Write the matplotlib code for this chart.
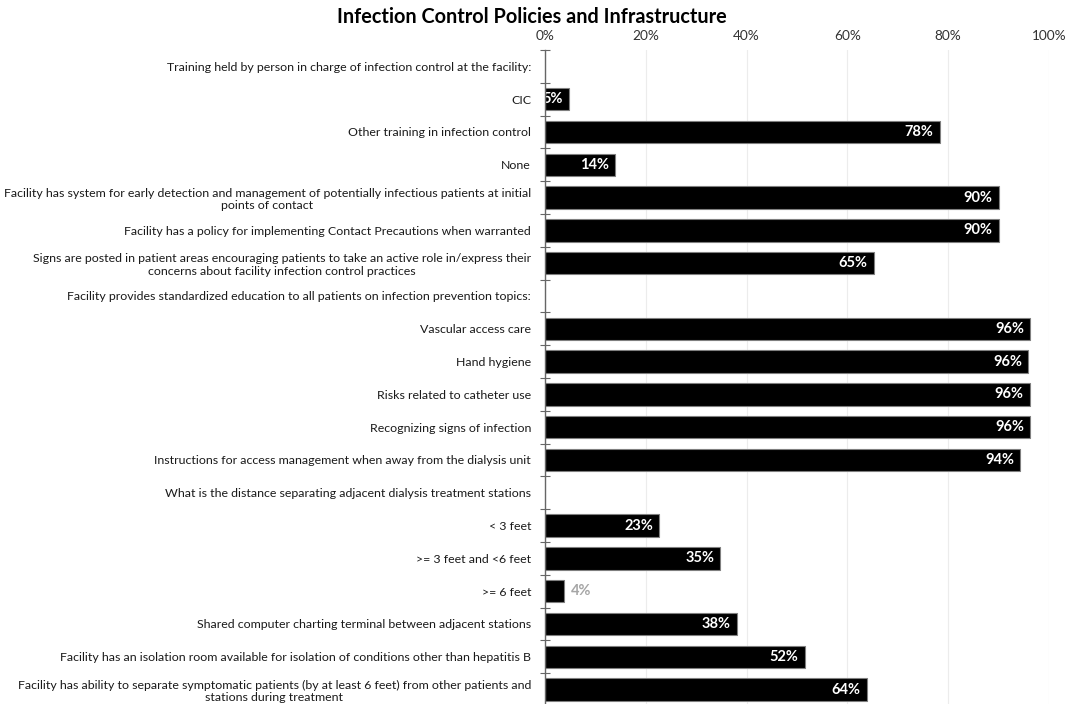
import matplotlib
matplotlib.use('Agg')
import matplotlib.pyplot as plt
import numpy as np

categories = [
    "Training held by person in charge of infection control at the facility:",
    "CIC",
    "Other training in infection control",
    "None",
    "Facility has system for early detection and management of potentially infectious patients at initial\npoints of contact",
    "Facility has a policy for implementing Contact Precautions when warranted",
    "Signs are posted in patient areas encouraging patients to take an active role in/express their\nconcerns about facility infection control practices",
    "Facility provides standardized education to all patients on infection prevention topics:",
    "Vascular access care",
    "Hand hygiene",
    "Risks related to catheter use",
    "Recognizing signs of infection",
    "Instructions for access management when away from the dialysis unit",
    "What is the distance separating adjacent dialysis treatment stations",
    "< 3 feet",
    ">= 3 feet and <6 feet",
    ">= 6 feet",
    "Shared computer charting terminal between adjacent stations",
    "Facility has an isolation room available for isolation of conditions other than hepatitis B",
    "Facility has ability to separate symptomatic patients (by at least 6 feet) from other patients and\nstations during treatment",
]
values = [None, 4.8, 78.3, 13.9, 90.0, 90.0, 65.2, None, 96.3, 95.9, 96.2, 96.3, 94.3,
          None, 22.7, 34.8, 3.8, 38.0, 51.5, 63.8]
value_labels = [None, "5%", "78%", "14%", "90%", "90%", "65%", None, "96%", "96%", "96%", "96%", "94%",
                None, "23%", "35%", "4%", "38%", "52%", "64%"]
x_ticks = [0, 20, 40, 60, 80, 100]
x_tick_labels = ["0%", "20%", "40%", "60%", "80%", "100%"]
title = "Infection Control Policies and Infrastructure"

plt.rcParams['font.family'] = ['Lato', 'DejaVu Sans']

W, H = 1074, 704
fig = plt.figure(figsize=(W / 100, H / 100), dpi=100)
ax_left, ax_right, ax_top, ax_bot = 545, 1049, 50, 706
ax = fig.add_axes([ax_left / W, (H - ax_bot) / H, (ax_right - ax_left) / W, (ax_bot - ax_top) / H])

n = len(categories)
y = np.arange(n)
for yi, v, lab in zip(y, values, value_labels):
    if v is None:
        continue
    ax.barh(yi, v, height=0.68, color='black', edgecolor='#7f7f7f', linewidth=0.8, zorder=3)
    if v < 4.5:
        ax.text(v + 1.3, yi, lab, ha='left', va='center', color='#a6a6a6',
                fontsize=10.5, fontweight='bold', zorder=4)
    else:
        ax.text(v - 1.2, yi, lab, ha='right', va='center', color='white',
                fontsize=10.5, fontweight='bold', zorder=4)

ax.set_xlim(0, 100)
ax.set_ylim(n - 0.5, -0.5)
ax.xaxis.tick_top()
ax.set_xticks(x_ticks)
ax.set_xticklabels(x_tick_labels, fontsize=9.8, color='#333333')
ax.tick_params(axis='x', length=0, pad=6)
ax.grid(axis='x', color='#ececec', linewidth=0.8, zorder=0)

ax.set_yticks(y)
ax.set_yticklabels(categories, fontsize=8.9, color='#1a1a1a')
for t in ax.get_yticklabels():
    t.set_multialignment('center')
ax.tick_params(axis='y', which='major', length=0, pad=10)
ax.set_yticks(np.arange(-0.5, n, 1), minor=True)
ax.tick_params(axis='y', which='minor', length=7, direction='inout', color='#666666', width=0.8)

for s in ['top', 'right', 'bottom']:
    ax.spines[s].set_visible(False)
ax.spines['left'].set_color('#666666')
ax.spines['left'].set_linewidth(1.0)
ax.spines['left'].set_zorder(5)

fig.text(532 / W, 1 - 17 / H, title, ha='center', va='center', fontsize=14.3, fontweight='bold',
         color='black')

fig.savefig('out.png', dpi=100, facecolor='white')
